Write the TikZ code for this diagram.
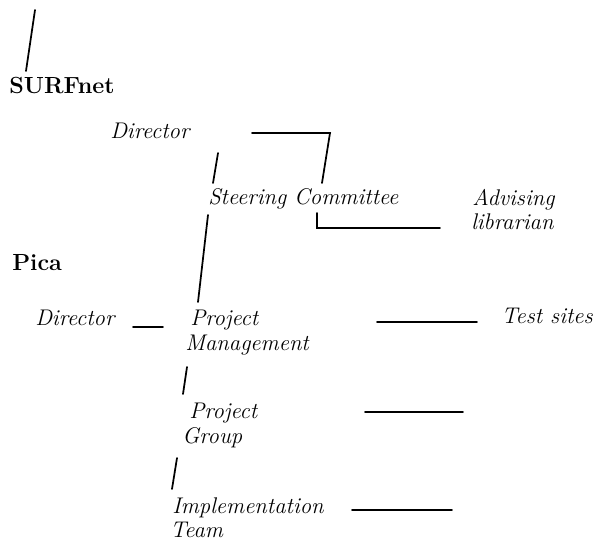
\documentclass[tikz,border=0pt]{standalone}
\begin{document}
\begin{tikzpicture}[x=0.75pt,y=-0.75pt,
  lbl/.style={anchor=base west,inner sep=0pt,font=\fontsize{17}{20}\selectfont\itshape},
  org/.style={anchor=base west,inner sep=0pt,font=\fontsize{17.5}{20}\selectfont\bfseries},
  link/.style={line width=1.3pt,line cap=round,line join=miter}]
\useasboundingbox (0,0) rectangle (596,540);
% organisations
\node[org] (surf) at (9,93) {SURFnet};
\node[org] (pica) at (12,270) {Pica};
% roles
\node[lbl] (sdir) at (110,138) {Director};
\node[lbl] (steer) at (208,204) {Steering Committee};
\node[lbl] (adv1) at (472,205) {Advising};
\node[lbl] (adv2) at (471,229) {librarian};
\node[lbl] (pdir) at (35,325) {Director};
\node[lbl] (pm1) at (190,325) {Project};
\node[lbl] (pm2) at (185,350) {Management};
\node[lbl,anchor=base east] (test) at (593,323) {Test sites};
\node[lbl] (pg1) at (189,418) {Project};
\node[lbl] (pg2) at (182,443) {Group};
\node[lbl] (im1) at (172,513) {Implementation};
\node[lbl] (im2) at (170,537) {Team};
% connector end points
\coordinate (t1) at (35,10);   \coordinate (t2) at (26,71);
\coordinate (d1) at (252,133); \coordinate (d2) at (330,133); \coordinate (d3) at (322,183);
\coordinate (s1) at (218,153); \coordinate (s2) at (213,183);
\coordinate (l1) at (317,213); \coordinate (l2) at (317,228); \coordinate (l3) at (440,228);
\coordinate (m1) at (208,215); \coordinate (m2) at (198,302);
\coordinate (p1) at (133,327); \coordinate (p2) at (163,327);
\coordinate (r1) at (377,322); \coordinate (r2) at (477,322);
\coordinate (g1) at (187,367); \coordinate (g2) at (183,394);
\coordinate (h1) at (365,412); \coordinate (h2) at (463,412);
\coordinate (i1) at (177,458); \coordinate (i2) at (172,489);
\coordinate (j1) at (352,510); \coordinate (j2) at (452,510);
% connectors
\draw[link] (t1) -- (t2);
\draw[link] (d1) -- (d2) -- (d3);
\draw[link] (s1) -- (s2);
\draw[link] (l1) -- (l2) -- (l3);
\draw[link] (m1) -- (m2);
\draw[link] (p1) -- (p2);
\draw[link] (r1) -- (r2);
\draw[link] (g1) -- (g2);
\draw[link] (h1) -- (h2);
\draw[link] (i1) -- (i2);
\draw[link] (j1) -- (j2);
\end{tikzpicture}
\end{document}
